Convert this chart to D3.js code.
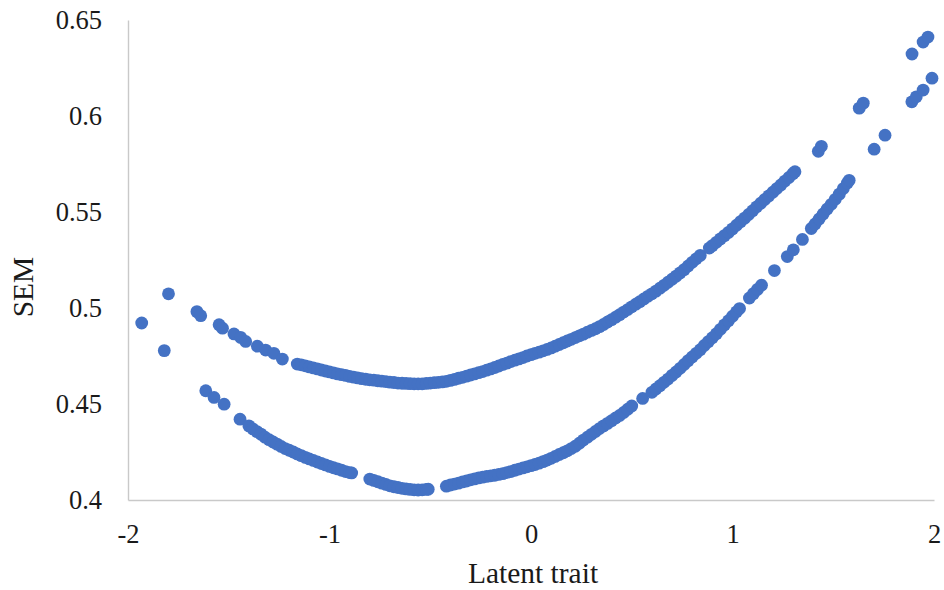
<!DOCTYPE html>
<html>
<head>
<meta charset="utf-8">
<script src="https://cdn.jsdelivr.net/npm/d3@7/dist/d3.min.js"></script>
<style>
  html, body { margin: 0; padding: 0; background: #fff; }
  svg { display: block; }
  text { font-family: "Liberation Serif", "Times New Roman", serif; fill: #1a1a1a; }
</style>
</head>
<body>
<svg id="chart" width="944" height="590"></svg>
<script>
// Standard error of measurement against latent trait, one point per estimate.
// Upper band of estimates
const upperTrait = [
  -1.932, -1.799,
  -1.658, -1.639, -1.548, -1.531, -1.474, -1.441, -1.416, -1.358, -1.317, -1.276, -1.234,
  -1.16, -1.14, -1.12, -1.10, -1.08, -1.06, -1.04, -1.02, -1.00, -0.98, -0.96, -0.94,
  -0.92, -0.90, -0.88, -0.86, -0.84, -0.82, -0.80, -0.78, -0.76, -0.74, -0.72, -0.70,
  -0.68, -0.66, -0.64, -0.62, -0.60, -0.58, -0.56, -0.54, -0.52, -0.50, -0.48, -0.46,
  -0.44, -0.42, -0.40, -0.38, -0.36, -0.34, -0.32, -0.30, -0.28, -0.26, -0.24, -0.22,
  -0.20, -0.18, -0.16, -0.14, -0.12, -0.10, -0.08, -0.06, -0.04, -0.02, 0.00, 0.02,
  0.04, 0.06, 0.08, 0.10, 0.12, 0.14, 0.16, 0.18, 0.20, 0.22, 0.24, 0.26,
  0.28, 0.30, 0.32, 0.34, 0.36, 0.38, 0.40, 0.42, 0.44, 0.46, 0.48, 0.50,
  0.52, 0.54, 0.56, 0.58, 0.60, 0.62, 0.64, 0.66, 0.68, 0.70, 0.72, 0.74,
  0.76, 0.78, 0.80, 0.82, 0.84, 0.885, 0.90, 0.92, 0.94, 0.96, 0.98, 1.00,
  1.02, 1.04, 1.06, 1.08, 1.10, 1.12, 1.14, 1.16, 1.18, 1.20, 1.22, 1.24,
  1.26, 1.28, 1.30, 1.31,
  1.426, 1.441, 1.629, 1.649, 1.891, 1.946, 1.970
];
const upperSEM = [
  0.4922, 0.5074,
  0.4981, 0.4960, 0.4913, 0.4895, 0.4865, 0.4847, 0.4826, 0.4801, 0.4781, 0.4764, 0.4734,
  0.4708, 0.4704, 0.4699, 0.4693, 0.4688, 0.4683, 0.4677, 0.4672, 0.4667, 0.4662, 0.4657, 0.4653,
  0.4649, 0.4644, 0.4640, 0.4636, 0.4632, 0.4629, 0.4626, 0.4624, 0.4621, 0.4619, 0.4617, 0.4614,
  0.4612, 0.4609, 0.4608, 0.4607, 0.4606, 0.4605, 0.4605, 0.4605, 0.4607, 0.4609, 0.4611, 0.4613,
  0.4615, 0.4618, 0.4623, 0.4628, 0.4634, 0.4639, 0.4645, 0.4651, 0.4657, 0.4663, 0.4669, 0.4676,
  0.4683, 0.4690, 0.4698, 0.4706, 0.4713, 0.4721, 0.4728, 0.4735, 0.4742, 0.4750, 0.4757, 0.4764,
  0.4770, 0.4777, 0.4784, 0.4792, 0.4801, 0.4810, 0.4819, 0.4828, 0.4837, 0.4846, 0.4855, 0.4864,
  0.4874, 0.4883, 0.4892, 0.4903, 0.4914, 0.4927, 0.4939, 0.4952, 0.4965, 0.4979, 0.4992, 0.5006,
  0.5020, 0.5033, 0.5047, 0.5061, 0.5074, 0.5088, 0.5103, 0.5118, 0.5134, 0.5150, 0.5166, 0.5183,
  0.5200, 0.5219, 0.5238, 0.5256, 0.5274, 0.5312, 0.5325, 0.5342, 0.5360, 0.5377, 0.5394, 0.5412,
  0.5431, 0.5450, 0.5468, 0.5487, 0.5507, 0.5527, 0.5546, 0.5565, 0.5584, 0.5603, 0.5622, 0.5641,
  0.5661, 0.5680, 0.5700, 0.5710,
  0.5816, 0.5842, 0.6041, 0.6067, 0.6323, 0.6385, 0.6411
];

// Lower band of estimates
const lowerTrait = [
  -1.820,
  -1.614, -1.573, -1.523, -1.444,
  -1.40, -1.38, -1.36, -1.34, -1.32, -1.30, -1.28, -1.26, -1.24, -1.22, -1.20, -1.18,
  -1.16, -1.14, -1.12, -1.10, -1.08, -1.06, -1.04, -1.02, -1.00, -0.98, -0.96, -0.94,
  -0.92, -0.90, -0.89,
  -0.80, -0.78, -0.76, -0.74, -0.72, -0.70, -0.68, -0.66, -0.64, -0.62, -0.60, -0.58,
  -0.56, -0.54, -0.52, -0.51,
  -0.42, -0.40, -0.38, -0.36, -0.34, -0.32, -0.30, -0.28, -0.26, -0.24, -0.22, -0.20,
  -0.18, -0.16, -0.14, -0.12, -0.10, -0.08, -0.06, -0.04, -0.02, 0.00, 0.02, 0.04,
  0.06, 0.08, 0.10, 0.12, 0.14, 0.16, 0.18, 0.20, 0.22, 0.24, 0.26, 0.28,
  0.30, 0.32, 0.34, 0.36, 0.38, 0.40, 0.42, 0.44, 0.46, 0.48, 0.50,
  0.554,
  0.60, 0.62, 0.64, 0.66, 0.68, 0.70, 0.72, 0.74, 0.76, 0.78, 0.80, 0.82,
  0.84, 0.86, 0.88, 0.90, 0.92, 0.94, 0.96, 0.98, 1.00, 1.02, 1.035,
  1.084, 1.104, 1.124, 1.144,
  1.208,
  1.272, 1.302,
  1.347,
  1.391, 1.41, 1.43, 1.45, 1.47, 1.49, 1.51, 1.53, 1.55, 1.57, 1.579,
  1.703, 1.757, 1.890, 1.912, 1.946, 1.990
];
const lowerSEM = [
  0.4778,
  0.4569, 0.4534, 0.4499, 0.4421,
  0.4386, 0.4370, 0.4356, 0.4343, 0.4327, 0.4314, 0.4302, 0.4291, 0.4279, 0.4268, 0.4259, 0.4250,
  0.4240, 0.4231, 0.4222, 0.4214, 0.4206, 0.4198, 0.4190, 0.4183, 0.4175, 0.4168, 0.4162, 0.4155,
  0.4148, 0.4143, 0.4141,
  0.4109, 0.4102, 0.4095, 0.4088, 0.4081, 0.4074, 0.4069, 0.4065, 0.4061, 0.4058, 0.4055, 0.4053,
  0.4052, 0.4053, 0.4055, 0.4056,
  0.4072, 0.4078, 0.4083, 0.4088, 0.4094, 0.4099, 0.4105, 0.4110, 0.4115, 0.4119, 0.4123, 0.4126,
  0.4129, 0.4133, 0.4137, 0.4143, 0.4148, 0.4155, 0.4161, 0.4167, 0.4173, 0.4179, 0.4185, 0.4192,
  0.4200, 0.4208, 0.4217, 0.4227, 0.4237, 0.4246, 0.4256, 0.4268, 0.4280, 0.4296, 0.4312, 0.4327,
  0.4342, 0.4357, 0.4372, 0.4386, 0.4399, 0.4413, 0.4427, 0.4440, 0.4456, 0.4473, 0.4490,
  0.4529,
  0.4561, 0.4578, 0.4595, 0.4613, 0.4630, 0.4649, 0.4667, 0.4686, 0.4706, 0.4726, 0.4745, 0.4764,
  0.4783, 0.4805, 0.4825, 0.4845, 0.4866, 0.4889, 0.4912, 0.4934, 0.4957, 0.4980, 0.4997,
  0.5052, 0.5075, 0.5097, 0.5119,
  0.5195,
  0.5268, 0.5303,
  0.5357,
  0.5414, 0.5438, 0.5464, 0.5490, 0.5516, 0.5540, 0.5566, 0.5593, 0.5622, 0.5651, 0.5665,
  0.5827, 0.5900, 0.6074, 0.6100, 0.6135, 0.6197
];

const xTicks = [-2, -1, 0, 1, 2];
const xTickLabels = ["-2", "-1", "0", "1", "2"];
const yTicks = [0.4, 0.45, 0.5, 0.55, 0.6, 0.65];
const yTickLabels = ["0.4", "0.45", "0.5", "0.55", "0.6", "0.65"];
const xTitle = "Latent trait";
const yTitle = "SEM";

const points = upperTrait.map((t, i) => ({ t, s: upperSEM[i] }))
  .concat(lowerTrait.map((t, i) => ({ t, s: lowerSEM[i] })));

const svg = d3.select("#chart");
const plot = { left: 128, right: 934, top: 20, bottom: 500 };

const x = d3.scaleLinear().domain([-2, 2]).range([plot.left, plot.right]);
const y = d3.scaleLinear().domain([0.4, 0.65]).range([plot.bottom, plot.top]);

const axisColor = "#c9c9c9";
const tickFont = 26.5;

// y axis
const yAxis = svg.append("g")
  .attr("transform", `translate(${plot.left},0)`)
  .call(d3.axisLeft(y).tickValues(yTicks)
    .tickFormat((d, i) => yTickLabels[i])
    .tickSizeInner(0).tickSizeOuter(0).tickPadding(26));
yAxis.select(".domain").attr("stroke", axisColor).attr("stroke-width", 1.4);
yAxis.selectAll("text")
  .style("font-family", '"Liberation Serif", serif')
  .style("font-size", tickFont + "px")
  .attr("fill", "#1a1a1a");

// x axis
const xAxis = svg.append("g")
  .attr("transform", `translate(0,${plot.bottom})`)
  .call(d3.axisBottom(x).tickValues(xTicks)
    .tickFormat((d, i) => xTickLabels[i])
    .tickSizeInner(0).tickSizeOuter(0).tickPadding(24));
xAxis.select(".domain").attr("stroke", axisColor).attr("stroke-width", 1.4);
xAxis.selectAll("text")
  .style("font-family", '"Liberation Serif", serif')
  .style("font-size", tickFont + "px")
  .attr("fill", "#1a1a1a");

// axis titles
svg.append("text")
  .attr("x", 533).attr("y", 583)
  .attr("text-anchor", "middle")
  .style("font-size", "29.5px")
  .text(xTitle);

svg.append("text")
  .attr("transform", "translate(33,287) rotate(-90)")
  .attr("text-anchor", "middle")
  .style("font-size", "29.5px")
  .text(yTitle);

// markers
svg.append("g")
  .selectAll("circle")
  .data(points)
  .join("circle")
  .attr("cx", d => x(d.t))
  .attr("cy", d => y(d.s))
  .attr("r", 6.4)
  .attr("fill", "#4472C4");
</script>
</body>
</html>
